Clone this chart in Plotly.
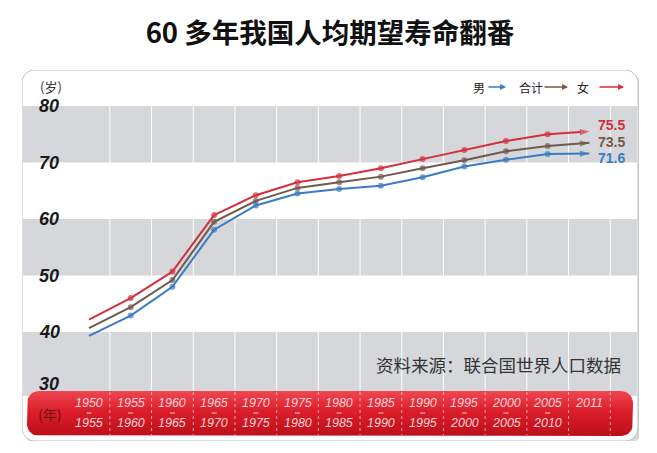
import numpy as np
import plotly.graph_objects as go

# ---- data -------------------------------------------------------------
period_start = ["1950", "1955", "1960", "1965", "1970", "1975", "1980",
                "1985", "1990", "1995", "2000", "2005", "2011"]
period_end = ["1955", "1960", "1965", "1970", "1975", "1980", "1985",
              "1990", "1995", "2000", "2005", "2010", ""]

female = [42.2, 46.0, 50.7, 60.7, 64.2, 66.5, 67.6, 69.0, 70.6, 72.2, 73.8, 75.0, 75.5]
total = [40.7, 44.4, 49.2, 59.5, 63.2, 65.5, 66.5, 67.5, 69.0, 70.4, 72.0, 72.9, 73.5]
male = [39.3, 42.9, 48.0, 58.1, 62.4, 64.5, 65.3, 65.9, 67.4, 69.3, 70.5, 71.5, 71.6]

series_names = ["女", "合计", "男"]
series_labels = ["75.5", "73.5", "71.6"]
y_ticks = [30, 40, 50, 60, 70, 80]
grey_bands = [(30, 40), (50, 60), (70, 80)]

RED = "#d32f3d"
BROWN = "#6f5a4d"
BLUE = "#3b7bc5"
PINK = "#f9d3d6"

# ---- pixel helpers (layout only) ---------------------------------------
# positions below are measured on the reference picture; the page body
# adds an 8px margin, so the figure itself is drawn 8px up and left
PAGE = 8
X0, DX = 89, 41.7      # pixel of first column, column width
Y80, DY = 106, 5.65    # pixel of the 80 line, pixels per year


def dx(p):
    return (p - X0) / DX


def dy(p):
    return 80 - (p - Y80) / DY


def rounded(x0, y0, x1, y1, r, n=10):
    """rounded box given in pixels -> lists of data coords"""
    xs, ys = [], []
    corners = [(x1 - r, y0 + r, -90), (x1 - r, y1 - r, 0),
               (x0 + r, y1 - r, 90), (x0 + r, y0 + r, 180)]
    for cx, cy, a0 in corners:
        for a in np.radians(np.linspace(a0, a0 + 90, n)):
            xs.append(dx(cx + r * np.cos(a)))
            ys.append(dy(cy + r * np.sin(a)))
    xs.append(xs[0])
    ys.append(ys[0])
    return xs, ys


def path_of(xs, ys):
    return "M " + " L ".join(f"{a:.4f},{b:.4f}" for a, b in zip(xs, ys)) + " Z"


idx = list(range(len(period_start)))
fig = go.Figure()

# card + shadow
sx, sy = rounded(24, 73, 641, 444, 13)
cx, cy = rounded(22, 70, 638, 441, 13)
shapes = [
    dict(type="path", path=path_of(sx, sy), fillcolor="#d6d6d6", line=dict(width=0), layer="below"),
    dict(type="path", path=path_of(cx, cy), fillcolor="white", line=dict(color="#bdbdbd", width=1), layer="below"),
]
for lo, hi in grey_bands:
    shapes.append(dict(type="rect", x0=dx(23), x1=dx(637),
                       y0=dy(396) if lo == min(y_ticks) else lo, y1=hi,
                       fillcolor="#d5d7da", line=dict(width=0), layer="below"))

# red year band with gradient
rx, ry = rounded(27, 391, 633, 436, 12)
fig.add_trace(go.Scatter(
    x=rx, y=ry, mode="lines", fill="toself", line=dict(width=0),
    fillgradient=dict(type="vertical",
                      colorscale=[[0, "#bd0f1b"], [0.55, "#db1e2a"], [1, "#ef4751"]]),
    hoverinfo="skip", showlegend=False))

# column separators
sep_x, sep_y, sep_xr, sep_yr = [], [], [], []
for i in idx:
    sep_x += [i + 0.5, i + 0.5, None]
    sep_y += [80, dy(391), None]
    sep_xr += [i + 0.5, i + 0.5, None]
    sep_yr += [dy(392), dy(435), None]
fig.add_trace(go.Scatter(x=sep_x, y=sep_y, mode="lines", line=dict(color="white", width=1),
                         hoverinfo="skip", showlegend=False))
fig.add_trace(go.Scatter(x=sep_xr, y=sep_yr, mode="lines",
                         line=dict(color="rgba(255,255,255,0.6)", width=1, dash="dot"),
                         hoverinfo="skip", showlegend=False))

# small dash between the two years of each period
dash_x, dash_y = [], []
for i, b in zip(idx, period_end):
    if b:
        dash_x += [i - 0.06, i + 0.06, None]
        dash_y += [dy(413), dy(413), None]
fig.add_trace(go.Scatter(x=dash_x, y=dash_y, mode="lines", line=dict(color=PINK, width=1),
                         hoverinfo="skip", showlegend=False))

# data lines
n = len(idx)
sizes = [0] + [6] * (n - 2) + [10]
symbols = ["circle"] * (n - 1) + ["arrow"]
for vals, name, color in zip([female, total, male], series_names, [RED, BROWN, BLUE]):
    fig.add_trace(go.Scatter(
        x=idx, y=vals, mode="lines+markers", name=name,
        line=dict(color=color, width=2),
        marker=dict(color=color, size=sizes, symbol=symbols, angleref="previous",
                    line=dict(width=0)),
        showlegend=False))

ann = []
# end labels
for vals, lab, color, shift in zip([female, total, male], series_labels,
                                   [RED, BROWN, BLUE], [6, 1, -5]):
    ann.append(dict(x=idx[-1], y=vals[-1], text=f"<b>{lab}</b>", showarrow=False,
                    xanchor="left", xshift=8, yshift=shift, height=12, borderpad=0,
                    font=dict(family="Liberation Sans", size=14, color=color)))

# y tick labels
for t in y_ticks:
    ann.append(dict(x=dx(49), y=t, text=f"<b><i>{t}</i></b>", showarrow=False,
                    yshift=5 if t == min(y_ticks) else 0,
                    font=dict(family="Liberation Sans", size=18, color="#1a1a1a")))
ann.append(dict(x=dx(51), y=dy(86), text="(岁)", showarrow=False,
                font=dict(family="Noto Sans CJK SC", size=13, color="#333333")))
ann.append(dict(x=dx(49), y=dy(414), text="(年)", showarrow=False,
                font=dict(family="Noto Sans CJK SC", size=14, color="#6b1414")))

# period labels in red band
for i, a, b in zip(idx, period_start, period_end):
    f = dict(family="Liberation Sans", size=12.5, color=PINK)
    ann.append(dict(x=i, y=dy(403), text=f"<i>{a}</i>", showarrow=False, font=f,
                    height=12, borderpad=0))
    if b:
        ann.append(dict(x=i, y=dy(423), text=f"<i>{b}</i>", showarrow=False, font=f,
                        height=12, borderpad=0))

# legend: text followed by an arrow
legend_items = [("男", BLUE, 479, 487, 506), ("合计", BROWN, 531, 543, 568), ("女", RED, 583, 598, 624)]
for name, color, tx, a0, a1 in legend_items:
    ann.append(dict(x=dx(tx), y=dy(87), text=name, showarrow=False,
                    font=dict(family="Noto Sans CJK SC", size=12, color="#222222")))
    ann.append(dict(x=dx(a1), y=dy(87), ax=a0 - a1, ay=0, text="", showarrow=True,
                    arrowhead=2, arrowsize=0.9, arrowwidth=1.3, arrowcolor=color))

# source
ann.append(dict(x=dx(623), y=dy(364), text="资料来源：联合国世界人口数据", showarrow=False,
                xanchor="right",
                font=dict(family="Noto Sans CJK SC", size=17.5, color="#333333")))

fig.update_layout(
    width=657, height=453,
    margin=dict(l=22 - PAGE, r=657 - (639 - PAGE), t=70 - PAGE, b=453 - (441 - PAGE)),
    paper_bgcolor="white", plot_bgcolor="white",
    title=dict(text="<b>60 多年我国人均期望寿命翻番</b>", x=(330 - PAGE) / 657, xanchor="center",
               y=1 - (33 - PAGE) / 453, yanchor="middle", yref="container",
               font=dict(family="Noto Sans CJK SC", size=27.5, color="#111111")),
    xaxis=dict(visible=False, range=[dx(22), dx(639)], fixedrange=True),
    yaxis=dict(visible=False, range=[dy(441), dy(70)], fixedrange=True),
    shapes=shapes, annotations=ann,
    hovermode=False, showlegend=False,
)

fig.write_html("out.html")
